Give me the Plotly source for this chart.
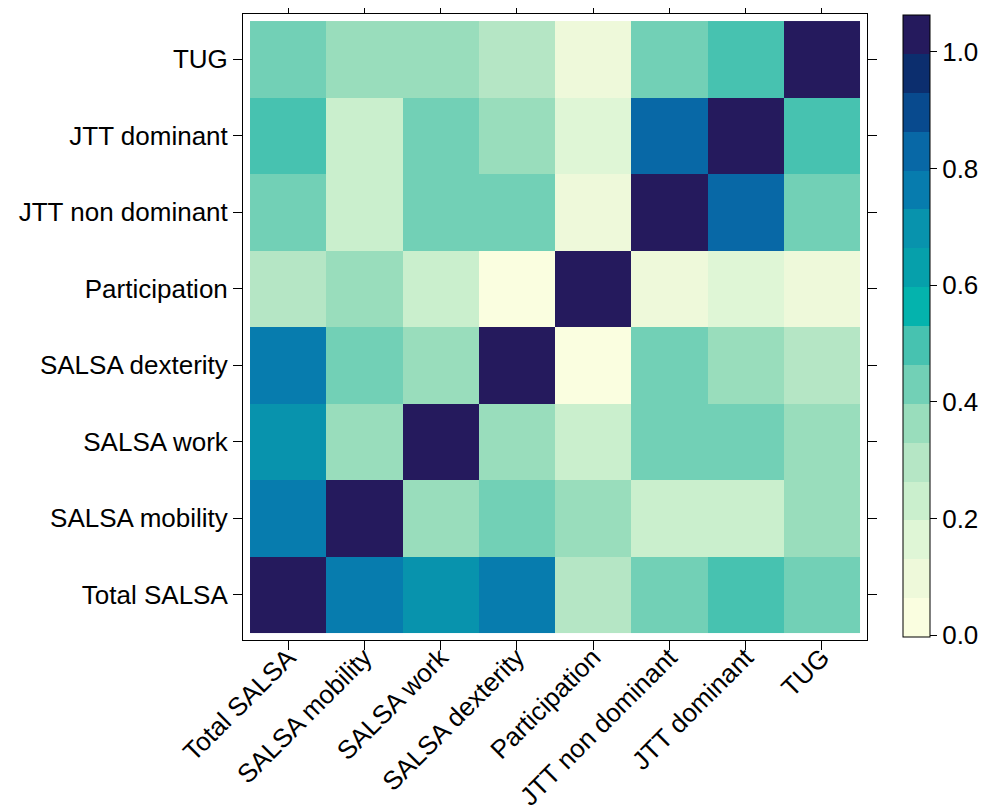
import plotly.graph_objects as go

labels = ["Total SALSA", "SALSA mobility", "SALSA work", "SALSA dexterity",
          "Participation", "JTT non dominant", "JTT dominant", "TUG"]

# rows in order of labels (bottom to top), columns in order of labels
row_total_salsa = [1.00, 0.76, 0.70, 0.77, 0.30, 0.43, 0.50, 0.43]
row_salsa_mobility = [0.76, 1.00, 0.36, 0.43, 0.36, 0.23, 0.23, 0.36]
row_salsa_work = [0.70, 0.36, 1.00, 0.36, 0.23, 0.43, 0.43, 0.36]
row_salsa_dexterity = [0.77, 0.43, 0.36, 1.00, 0.03, 0.43, 0.36, 0.30]
row_participation = [0.30, 0.36, 0.23, 0.03, 1.00, 0.10, 0.16, 0.10]
row_jtt_non_dominant = [0.43, 0.23, 0.43, 0.43, 0.10, 1.00, 0.83, 0.43]
row_jtt_dominant = [0.50, 0.23, 0.43, 0.36, 0.16, 0.83, 1.00, 0.50]
row_tug = [0.43, 0.36, 0.36, 0.30, 0.10, 0.43, 0.50, 1.00]

z = [row_total_salsa, row_salsa_mobility, row_salsa_work, row_salsa_dexterity,
     row_participation, row_jtt_non_dominant, row_jtt_dominant, row_tug]

bin_colors = ["#FAFEE0", "#EEF9DA", "#DFF6D6", "#CAEFCD", "#B5E6C5", "#99DDBC",
              "#72D0B6", "#47C2B0", "#04B3AD", "#06A0AB", "#0893AD", "#077CAE",
              "#0868A6", "#084A8E", "#0C2E6E", "#251A5D"]
zmin, zmax = -0.0033, 1.0633

n = len(bin_colors)
colorscale = []
for i, c in enumerate(bin_colors):
    colorscale.append([i / n, c])
    colorscale.append([(i + 1) / n, c])

tick_vals = [0.0, 0.2, 0.4, 0.6, 0.8, 1.0]
tick_text = ["0.0", "0.2", "0.4", "0.6", "0.8", "1.0"]

font_family = "Liberation Sans, Arial, sans-serif"

# page offset (browser body margin)
off = 8
L, R, T, B = 243 - off, 988 - 867 + off, 14 - off, 809 - 640 + off
pw = 988 - L - R
ph = 809 - T - B

fig = go.Figure(go.Heatmap(
    z=z, x=labels, y=labels,
    zmin=zmin, zmax=zmax,
    colorscale=colorscale,
    colorbar=dict(
        x=(903 - 243) / pw, xanchor="left", xpad=0,
        y=(640 - 326) / ph, yanchor="middle", ypad=0,
        thickness=27, lenmode="pixels", len=622,
        outlinewidth=1, outlinecolor="black",
        tickmode="array", tickvals=tick_vals, ticktext=tick_text,
        ticks="outside", ticklen=7, tickwidth=1, tickcolor="black",
        tickfont=dict(family=font_family, size=26, color="black"),
    ),
    hoverongaps=False,
))

pad = 0.092
axis_common = dict(
    showgrid=False, zeroline=False,
    showline=True, linecolor="black", linewidth=1, mirror="ticks",
    ticks="outside", ticklen=9, tickwidth=1, tickcolor="black",
    tickfont=dict(family=font_family, size=26, color="black"),
    automargin=False,
)

fig.update_xaxes(range=[-0.5 - pad, 7.5 + pad], tickangle=-45,
                 ticklabelstandoff=-18, **axis_common)
fig.update_yaxes(range=[-0.5 - pad, 7.5 + pad], **axis_common)

fig.update_layout(
    width=988, height=809,
    margin=dict(l=L, r=R, t=T, b=B),
    paper_bgcolor="white", plot_bgcolor="white",
    font=dict(family=font_family, size=26, color="black"),
)

fig.write_html("out.html")
